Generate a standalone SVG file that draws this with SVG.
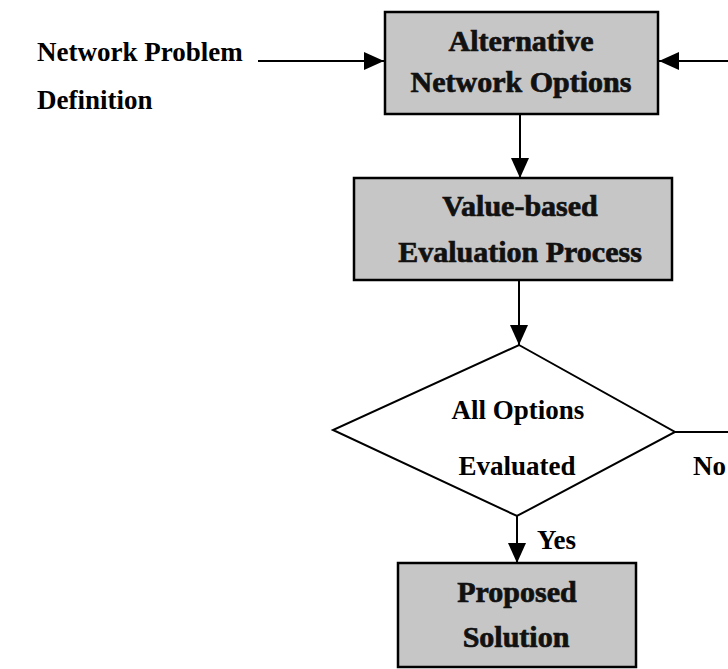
<svg xmlns="http://www.w3.org/2000/svg" width="728" height="669" viewBox="0 0 728 669">
  <style>
    .box { fill: #c6c6c6; stroke: #000; stroke-width: 2.5; }
    .dia { fill: #fff; stroke: #000; stroke-width: 2; }
    .lbl { font-family: "Liberation Serif", "Times New Roman", serif; font-weight: bold; font-size: 27px; fill: #000; }
    .btxt { font-family: "Liberation Serif", "Times New Roman", serif; font-weight: bold; font-size: 30px; fill: #111; stroke: #111; stroke-width: 0.7; text-anchor: middle; }
    .edge { fill: none; stroke: #000; stroke-width: 2; }
  </style>
  <defs>
    <marker id="arrow" viewBox="0 0 20 18" refX="20" refY="9" markerWidth="20" markerHeight="18" markerUnits="userSpaceOnUse" orient="auto">
      <path d="M0,0 L20,9 L0,18 Z" fill="#000"/>
    </marker>
  </defs>

  <!-- input label -->
  <g id="input-label">
    <text class="lbl" x="37" y="61">Network Problem</text>
    <text class="lbl" x="37" y="109">Definition</text>
  </g>

  <g id="alternatives">
    <rect class="box" x="385" y="12" width="273" height="102"/>
    <text class="btxt" x="521" y="51">Alternative</text>
    <text class="btxt" x="521" y="92">Network Options</text>
  </g>

  <g id="evaluation">
    <rect class="box" x="354" y="178" width="318" height="102"/>
    <text class="btxt" x="520" y="216">Value-based</text>
    <text class="btxt" x="520" y="262">Evaluation Process</text>
  </g>

  <g id="decision">
    <polygon class="dia" points="519,345 675,432 517,516 333,430"/>
    <text class="lbl" x="518" y="419" text-anchor="middle">All Options</text>
    <text class="lbl" x="517" y="475" text-anchor="middle">Evaluated</text>
  </g>

  <g id="solution">
    <rect class="box" x="398" y="563" width="238" height="104"/>
    <text class="btxt" x="517" y="602">Proposed</text>
    <text class="btxt" x="516" y="647">Solution</text>
  </g>

  <g id="connectors">
    <line class="edge" x1="258" y1="61" x2="384" y2="61" marker-end="url(#arrow)"/>
    <line class="edge" x1="728" y1="61" x2="659" y2="61" marker-end="url(#arrow)"/>
    <line class="edge" x1="520" y1="114" x2="520" y2="178" marker-end="url(#arrow)"/>
    <line class="edge" x1="519" y1="280" x2="519" y2="345" marker-end="url(#arrow)"/>
    <line class="edge" x1="675" y1="432" x2="728" y2="432"/>
    <line class="edge" x1="517" y1="516" x2="517" y2="563" marker-end="url(#arrow)"/>
    <text class="lbl" x="693" y="475">No</text>
    <text class="lbl" x="537" y="549">Yes</text>
  </g>
</svg>
